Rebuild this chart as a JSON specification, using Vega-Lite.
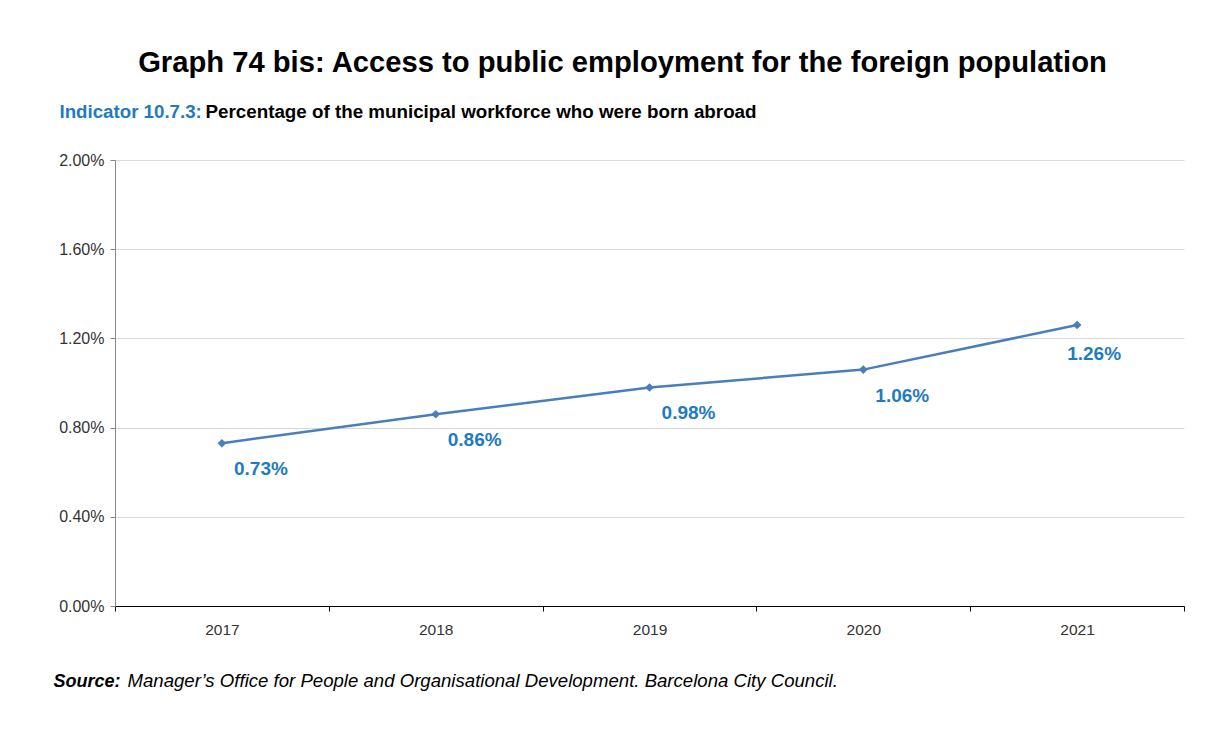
{
  "$schema": "https://vega.github.io/schema/vega-lite/v6.json",
  "width": 1069,
  "height": 446,
  "autosize": {"type": "none"},
  "padding": {"left": 115, "top": 160, "right": 28, "bottom": 123},
  "background": "white",
  "config": {"view": {"stroke": null}, "font": "Liberation Sans"},
  "title": {
    "text": "Graph 74 bis: Access to public employment for the foreign population",
    "fontSize": 29.2,
    "fontWeight": "bold",
    "color": "#000000",
    "anchor": "middle",
    "frame": "group",
    "dx": -27,
    "baseline": "alphabetic",
    "offset": 1
  },
  "data": {
    "values": [
      {"year": "2017", "value": 0.0073},
      {"year": "2018", "value": 0.0086},
      {"year": "2019", "value": 0.0098},
      {"year": "2020", "value": 0.0106},
      {"year": "2021", "value": 0.0126}
    ]
  },
  "layer": [
    {
      "mark": {
        "type": "line",
        "color": "#4a7ebb",
        "strokeWidth": 2.5,
        "point": {"shape": "diamond", "size": 75, "filled": true, "color": "#4a7ebb"}
      },
      "encoding": {
        "x": {
          "field": "year",
          "type": "ordinal",
          "bandPosition": 0.5,
          "scale": {"type": "band", "paddingInner": 0, "paddingOuter": 0, "domain": ["2017", "2018", "2019", "2020", "2021"]},
          "axis": {
            "orient": "bottom",
            "tickBand": "extent",
            "labelAngle": 0,
            "labelFontSize": 15.5,
            "labelColor": "#333333",
            "labelPadding": 11,
            "domainColor": "#000000",
            "tickColor": "#000000",
            "tickSize": 5,
            "grid": false,
            "title": "Source:",
            "titleFontSize": 18,
            "titleFontWeight": "bold",
            "titleFontStyle": "italic",
            "titleColor": "#000000",
            "titleX": -62,
            "titleY": 80,
            "titleAlign": "left",
            "titleAnchor": "start",
            "titleBaseline": "alphabetic",
            "titleAngle": 0
          }
        },
        "y": {
          "field": "value",
          "type": "quantitative",
          "scale": {"domain": [0, 0.02], "nice": false, "zero": true},
          "axis": {
            "orient": "left",
            "values": [0, 0.004, 0.008, 0.012, 0.016, 0.02],
            "format": ".2%",
            "labelFontSize": 16,
            "labelColor": "#333333",
            "labelPadding": 6,
            "domainColor": "#888888",
            "tickColor": "#888888",
            "tickSize": 5,
            "grid": true,
            "gridColor": "#d9d9d9",
            "title": "Indicator 10.7.3:",
            "titleFontSize": 18.7,
            "titleFontWeight": "bold",
            "titleColor": "#1f7bc1",
            "titleX": -56,
            "titleY": -43,
            "titleAlign": "left",
            "titleAnchor": "start",
            "titleBaseline": "alphabetic",
            "titleAngle": 0
          }
        }
      }
    },
    {
      "transform": [{"filter": "datum.year != '2021'"}],
      "mark": {"type": "text", "color": "#1f7bc1", "fontSize": 19, "fontWeight": "bold", "align": "center", "baseline": "middle", "dx": 39, "dy": 26},
      "encoding": {
        "x": {
          "field": "year",
          "type": "ordinal",
          "bandPosition": 0.5,
          "scale": {"type": "band", "paddingInner": 0, "paddingOuter": 0, "domain": ["2017", "2018", "2019", "2020", "2021"]},
          "axis": {
            "orient": "top",
            "labels": false,
            "ticks": false,
            "domain": false,
            "grid": false,
            "title": "Manager’s Office for People and Organisational Development. Barcelona City Council.",
            "titleFontSize": 18.6,
            "titleFontWeight": "normal",
            "titleFontStyle": "italic",
            "titleColor": "#000000",
            "titleX": 12,
            "titleY": 526,
            "titleAlign": "left",
            "titleAnchor": "start",
            "titleBaseline": "alphabetic",
            "titleAngle": 0
          }
        },
        "y": {
          "field": "value",
          "type": "quantitative",
          "scale": {"domain": [0, 0.02], "nice": false, "zero": true},
          "axis": {
            "orient": "right",
            "labels": false,
            "ticks": false,
            "domain": false,
            "grid": false,
            "title": "Percentage of the municipal workforce who were born abroad",
            "titleFontSize": 18.8,
            "titleFontWeight": "bold",
            "titleColor": "#000000",
            "titleX": -979,
            "titleY": -43,
            "titleAlign": "left",
            "titleAnchor": "start",
            "titleBaseline": "alphabetic",
            "titleAngle": 0
          }
        },
        "text": {"field": "value", "type": "quantitative", "format": ".2%"}
      }
    },
    {
      "transform": [{"filter": "datum.year == '2021'"}],
      "mark": {"type": "text", "color": "#1f7bc1", "fontSize": 19, "fontWeight": "bold", "align": "center", "baseline": "middle", "dx": 17, "dy": 29},
      "encoding": {
        "x": {
          "field": "year",
          "type": "ordinal",
          "bandPosition": 0.5,
          "scale": {"type": "band", "paddingInner": 0, "paddingOuter": 0, "domain": ["2017", "2018", "2019", "2020", "2021"]},
          "axis": null
        },
        "y": {
          "field": "value",
          "type": "quantitative",
          "scale": {"domain": [0, 0.02], "nice": false, "zero": true},
          "axis": null
        },
        "text": {"field": "value", "type": "quantitative", "format": ".2%"}
      }
    }
  ],
  "resolve": {"axis": {"x": "independent", "y": "independent"}}
}
